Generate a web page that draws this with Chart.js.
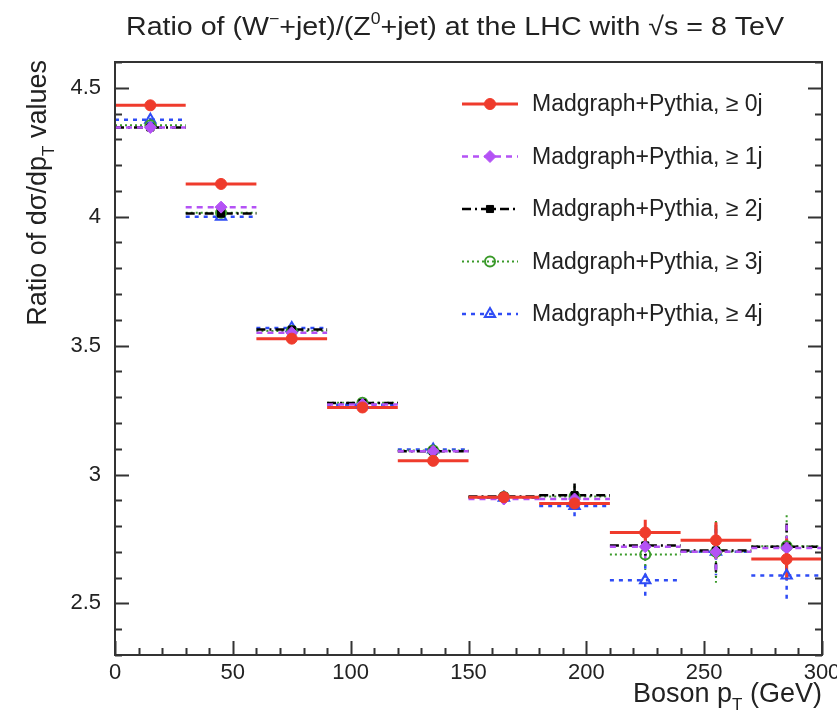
<!DOCTYPE html>
<html>
<head>
<meta charset="utf-8">
<script src="https://cdn.jsdelivr.net/npm/chart.js@4.4.1/dist/chart.umd.min.js"></script>
<style>
  html, body { margin: 0; padding: 0; background: #fff; }
</style>
</head>
<body>
<canvas id="ratioChart" width="837" height="715"></canvas>
<script>
'use strict';

// boson pT bins, 30 GeV wide
var binCentres = [15, 45, 75, 105, 135, 165, 195, 225, 255, 285];
var binHalfWidth = 15;

// W-/Z0 ratio of dsigma/dpT per jet multiplicity
var ratio0j = [4.432, 4.127, 3.527, 3.260, 3.053, 2.912, 2.888, 2.775, 2.745, 2.672];
var ratio1j = [4.346, 4.037, 3.550, 3.272, 3.090, 2.905, 2.905, 2.720, 2.700, 2.715];
var ratio2j = [4.346, 4.012, 3.562, 3.277, 3.090, 2.915, 2.920, 2.725, 2.705, 2.720];
var ratio3j = [4.355, 4.015, 3.557, 3.278, 3.093, 2.913, 2.915, 2.690, 2.700, 2.722];
var ratio4j = [4.376, 4.000, 3.568, 3.271, 3.097, 2.910, 2.878, 2.590, 2.700, 2.608];

// statistical errors (half widths)
var err0j = [0.004, 0.005, 0.006, 0.007, 0.010, 0.015, 0.020, 0.050, 0.070, 0.080];
var err1j = [0.005, 0.006, 0.007, 0.009, 0.012, 0.020, 0.030, 0.050, 0.080, 0.090];
var err2j = [0.005, 0.006, 0.007, 0.009, 0.012, 0.020, 0.045, 0.040, 0.100, 0.090];
var err3j = [0.006, 0.007, 0.008, 0.010, 0.015, 0.025, 0.040, 0.060, 0.120, 0.120];
var err4j = [0.008, 0.010, 0.012, 0.012, 0.018, 0.025, 0.045, 0.060, 0.090, 0.100];

var seriesLabels = [
  'Madgraph+Pythia, \u2265 0j',
  'Madgraph+Pythia, \u2265 1j',
  'Madgraph+Pythia, \u2265 2j',
  'Madgraph+Pythia, \u2265 3j',
  'Madgraph+Pythia, \u2265 4j'
];

var xTickValues = [0, 50, 100, 150, 200, 250, 300];
var yTickValues = [2.5, 3, 3.5, 4, 4.5];

var FONT = '"Liberation Sans", Arial, Helvetica, sans-serif';
var TEXT = '#222';

function makeSet(label, values, errors, colour, style) {
  return {
    label: label,
    data: binCentres.map(function (x, i) { return { x: x, y: values[i] }; }),
    errors: errors,
    borderColor: colour,
    backgroundColor: style.open ? 'rgba(255,255,255,0)' : colour,
    pointStyle: style.marker,
    pointRadius: style.radius,
    pointBorderWidth: style.open ? 2 : 1,
    lineDash: style.dash,
    lineW: style.width,
    showLine: false
  };
}

var datasets = [
  makeSet(seriesLabels[0], ratio0j, err0j, '#ef3b2c', { marker: 'circle', radius: 5.5, dash: [], width: 3 }),
  makeSet(seriesLabels[1], ratio1j, err1j, '#b452f5', { marker: 'rectRot', radius: 6, dash: [6, 5], width: 2.5 }),
  makeSet(seriesLabels[2], ratio2j, err2j, '#000000', { marker: 'rect', radius: 5, dash: [9, 4, 2, 4], width: 2.5 }),
  makeSet(seriesLabels[3], ratio3j, err3j, '#3a9a2a', { marker: 'circle', radius: 5, dash: [2, 3], width: 2, open: true }),
  makeSet(seriesLabels[4], ratio4j, err4j, '#2f4cf5', { marker: 'triangle', radius: 6, dash: [4, 5], width: 2.5, open: true })
];

// text with super/subscript runs: parts = [[text, shift], ...], shift 1 = sup, -1 = sub
function richWidth(ctx, parts, size) {
  var w = 0;
  parts.forEach(function (p) {
    ctx.font = (p[1] ? Math.round(size * 0.62) : size) + 'px ' + FONT;
    w += ctx.measureText(p[0]).width;
  });
  return w;
}
function drawRich(ctx, parts, x, y, size, align, stretch) {
  stretch = stretch || 1;
  var w = richWidth(ctx, parts, size) * stretch;
  var cx = align === 'right' ? x - w : align === 'center' ? x - w / 2 : x;
  ctx.save();
  ctx.translate(cx, y);
  ctx.scale(stretch, 1);
  ctx.textAlign = 'left';
  ctx.textBaseline = 'alphabetic';
  var run = 0;
  parts.forEach(function (p) {
    var s = p[1] ? Math.round(size * 0.62) : size;
    ctx.font = s + 'px ' + FONT;
    var dy = p[1] === 1 ? -size * 0.42 : p[1] === -1 ? size * 0.3 : 0;
    ctx.fillText(p[0], run, dy);
    run += ctx.measureText(p[0]).width;
  });
  ctx.restore();
}

function setStroke(ctx, ds) {
  ctx.strokeStyle = ds.borderColor;
  ctx.lineWidth = ds.lineW;
  ctx.setLineDash(ds.lineDash);
}

var errorBars = {
  id: 'errorBars',
  beforeDatasetsDraw: function (chart) {
    var ctx = chart.ctx, xs = chart.scales.x, ys = chart.scales.y;
    ctx.save();
    for (var d = chart.data.datasets.length - 1; d >= 0; d--) {
      var ds = chart.data.datasets[d];
      setStroke(ctx, ds);
      ds.data.forEach(function (pt, i) {
        var py = ys.getPixelForValue(pt.y);
        var px = xs.getPixelForValue(pt.x);
        ctx.beginPath();
        ctx.moveTo(xs.getPixelForValue(pt.x - binHalfWidth), py);
        ctx.lineTo(xs.getPixelForValue(pt.x + binHalfWidth), py);
        ctx.moveTo(px, ys.getPixelForValue(pt.y + ds.errors[i]));
        ctx.lineTo(px, ys.getPixelForValue(pt.y - ds.errors[i]));
        ctx.stroke();
      });
    }
    ctx.restore();
  }
};

var frameAndText = {
  id: 'frameAndText',
  afterDraw: function (chart) {
    var ctx = chart.ctx, a = chart.chartArea;
    var xs = chart.scales.x, ys = chart.scales.y;
    ctx.save();

    // frame
    ctx.strokeStyle = '#333';
    ctx.lineWidth = 2;
    ctx.strokeRect(a.left, a.top, a.right - a.left, a.bottom - a.top);

    // ticks pointing into the frame
    ctx.beginPath();
    for (var v = 0; v <= 300; v += 10) {
      var px = Math.round(xs.getPixelForValue(v)) + 0.5;
      var len = v % 50 === 0 ? 14 : 7;
      ctx.moveTo(px, a.bottom);
      ctx.lineTo(px, a.bottom - len);
    }
    for (var k = 23; k <= 46; k++) {
      var py = Math.round(ys.getPixelForValue(k / 10)) + 0.5;
      var l2 = k % 5 === 0 ? 14 : 7;
      ctx.moveTo(a.left, py);
      ctx.lineTo(a.left + l2, py);
      ctx.moveTo(a.right, py);
      ctx.lineTo(a.right - l2, py);
    }
    ctx.lineWidth = 2;
    ctx.stroke();

    ctx.fillStyle = TEXT;
    // title
    drawRich(ctx, [['Ratio of (W', 0], ['\u2212', 1], ['+jet)/(Z', 0], ['0', 1],
      ['+jet) at the LHC with \u221As = 8 TeV', 0]], 455, 35, 26, 'center', 1.1);

    // x title
    drawRich(ctx, [['Boson p', 0], ['T', -1], [' (GeV)', 0]], a.right, 702, 27, 'right');

    // y title, rotated, ending at the top of the frame
    ctx.save();
    ctx.translate(46, a.top - 2);
    ctx.rotate(-Math.PI / 2);
    drawRich(ctx, [['Ratio of d\u03C3/dp', 0], ['T', -1], [' values', 0]], 0, 0, 27, 'right');
    ctx.restore();

    // legend
    chart.data.datasets.forEach(function (ds, i) {
      var ly = 104 + i * 52.5;
      ctx.save();
      setStroke(ctx, ds);
      ctx.beginPath();
      ctx.moveTo(462, ly);
      ctx.lineTo(518, ly);
      ctx.stroke();
      ctx.setLineDash([]);
      ctx.fillStyle = ds.backgroundColor;
      ctx.strokeStyle = ds.borderColor;
      ctx.lineWidth = ds.pointBorderWidth;
      Chart.helpers.drawPoint(ctx, {
        pointStyle: ds.pointStyle, radius: ds.pointRadius,
        rotation: 0, borderWidth: ds.pointBorderWidth
      }, 490, ly);
      ctx.restore();
      ctx.fillStyle = TEXT;
      ctx.font = '23px ' + FONT;
      ctx.textAlign = 'left';
      ctx.textBaseline = 'middle';
      ctx.fillText(ds.label, 532, ly + 1);
    });

    ctx.restore();
  }
};

new Chart(document.getElementById('ratioChart'), {
  type: 'scatter',
  data: { datasets: datasets },
  options: {
    responsive: false,
    animation: false,
    devicePixelRatio: 1,
    layout: { padding: { top: 62, right: 15, left: 0, bottom: 0 } },
    plugins: { legend: { display: false }, tooltip: { enabled: false }, title: { display: false } },
    scales: {
      x: {
        type: 'linear', min: 0, max: 300,
        grid: { display: false, drawTicks: false },
        border: { display: false },
        afterBuildTicks: function (s) { s.ticks = xTickValues.map(function (v) { return { value: v }; }); },
        afterFit: function (s) { s.height = 60; s.paddingLeft = 0; s.paddingRight = 0; },
        ticks: {
          color: TEXT, padding: 5, maxRotation: 0, autoSkip: false,
          font: { family: FONT, size: 22 },
          callback: function (v) { return String(v); }
        }
      },
      y: {
        type: 'linear', min: 2.3, max: 4.6,
        grid: { display: false, drawTicks: false },
        border: { display: false },
        afterBuildTicks: function (s) { s.ticks = yTickValues.map(function (v) { return { value: v }; }); },
        afterFit: function (s) { s.width = 115; s.paddingTop = 0; s.paddingBottom = 0; },
        ticks: {
          color: TEXT, padding: 14, autoSkip: false,
          font: { family: FONT, size: 22 },
          callback: function (v) { return String(v); }
        }
      }
    }
  },
  plugins: [errorBars, frameAndText]
});
</script>
</body>
</html>
